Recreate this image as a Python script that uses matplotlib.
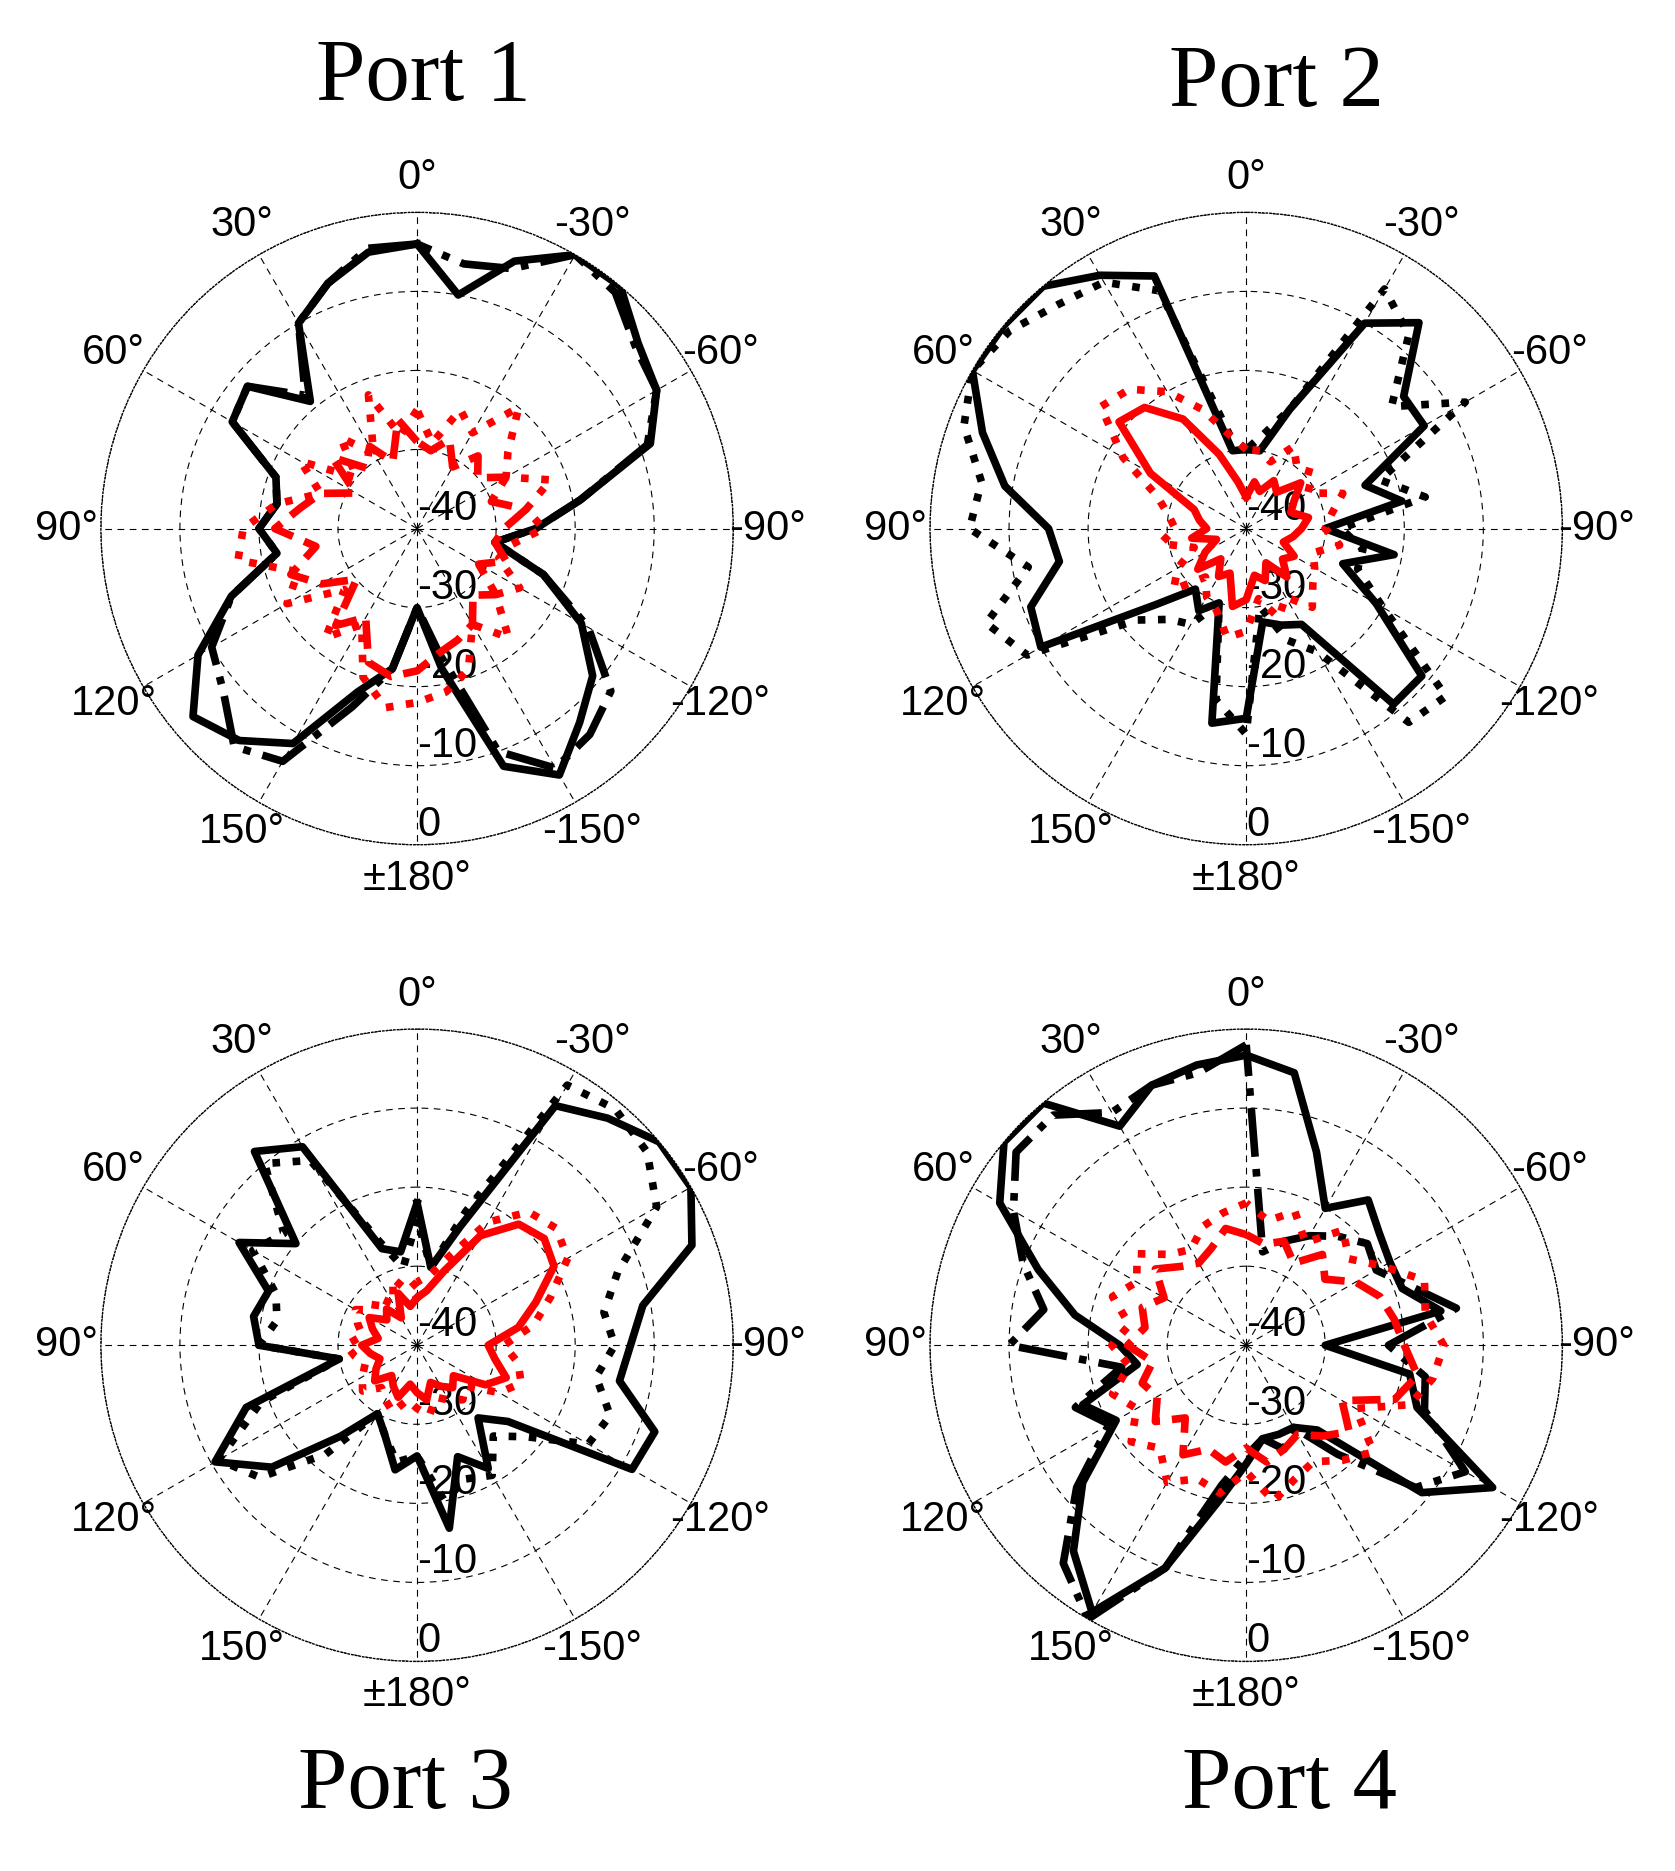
import numpy as np
import matplotlib
matplotlib.use("Agg")
import matplotlib.pyplot as plt

ang = list(range(0, 360, 10))  # degrees, counterclockwise from top; 190 = -170 etc.

p1_solid = [-4,-4.5,-7,-10,-19,-12,-13,-21,-22,-20,-22,-15,-8,-3,-5,-8.6,-18,-22,-30,
            -22,-8,-4,-8,-11,-16,-23,-30,-25,-19,-8.6,-5,-3.5,0,0,-4,-10]
p1_dash = [-4,-4,-7,-10,-18,-12,-13,-21,-22,-20,-22,-15,-10,-8,-4,-6,-16,-22,-30,
           -24,-10,-5,-6,-8,-15,-23,-30,-25,-19,-9,-5,-4,-1,0,-5,-6]
p1_red_dot = [-25,-28,-22,-29,-25,-30,-23,-27,-22,-18,-17,-24,-21,-28,-22,-26,-20,-17,-18,
              -19,-21,-26,-22,-27,-25,-29,-28,-24,-26,-22,-27,-25,-20,-26,-24,-29]
p1_red_dash = [-29,-26,-31,-28,-30,-26,-31,-27,-25,-22,-27,-23,-26,-30,-24,-27,-22,-21,-22,
               -24,-25,-26,-29,-27,-31,-28,-30,-29,-26,-30,-27,-30,-28,-31,-28,-30]

p2_solid = [-30,-30,-6,-3,0,0,0,-4.5,-9,-15,-16,-11,-10,-25,-30,-28,-30,-15,-16,
            -28,-27,-26,-11,-11,-21,-27,-21,-30,-20,-24,-14,-14,-6,-10,-24,-30]
p2_dot = [-30,-28,-8,-4,-3,-1,0,-2,-6,-5,-12,-5,-8,-22,-25,-26,-30,-18,-14,
          -30,-25,-22,-8,-7,-20,-25,-25,-28,-17,-22,-8,-16,-8,-5,-24,-28]
p2_red_solid = [-36,-34,-30,-24,-20,-19,-26,-33,-34,-35,-33,-36,-34,-32,-35,-33,-34,-30,-31,
                -34,-33,-35,-32,-34,-33,-35,-34,-33,-32,-34,-33,-31,-34,-33,-35,-34]
p2_red_dot = [-30,-28,-24,-20,-17,-16,-22,-28,-30,-31,-29,-33,-30,-28,-32,-30,-29,-26,-27,
              -31,-28,-30,-27,-29,-30,-31,-28,-30,-29,-27,-31,-29,-30,-28,-31,-30]

p3_solid = [-22,-28,-27,-11,-8,-20,-14,-20,-19,-20,-30,-17,-10.5,-16,-25,-30,-28,-24,-26,
            -16.5,-25,-22,-28,-25,-8.6,-8,-14,-13,-11,-3,0,0,-2.5,-5,-24,-30]
p3_dot = [-24,-30,-26,-13,-10,-18,-16,-21,-22,-20,-30,-19,-11,-14,-22,-30,-28,-25,-26,
          -20,-22,-21,-25,-22,-15,-14,-17,-15,-16,-13,-5,-2,-1,-2,-22,-30]
p3_red_solid = [-34,-35,-33,-36,-34,-35,-33,-34,-35,-33,-34,-35,-34,-33,-35,-34,-33,-35,-34,
                -33,-35,-34,-33,-34,-30,-28,-30,-31,-27,-24,-20,-19,-20,-24,-30,-33]
p3_red_dot = [-32,-33,-31,-34,-32,-33,-31,-32,-33,-31,-32,-33,-32,-31,-33,-32,-31,-33,-32,
              -31,-33,-32,-31,-32,-28,-26,-27,-29,-25,-22,-18,-17,-18,-22,-28,-31]

p4_solid = [-3.3,-4,-5,-8,0,0,-4,-12,-18,-24,-26,-18,-21,-13,-6,-1,-10,-20,-25,
            -28,-28,-28,-26,-11,-4,-17,-19,-30,-15,-19,-19,-18,-16,-20,-14,-5]
p4_dash = [-2,-5,-5,-6,-2,-2,-6,-10,-14,-10,-24,-17,-20,-12,-4,0,-10,-22,-26,
           -28,-26,-28,-22,-12,-8,-16,-17,-22,-13,-18,-21,-20,-22,-24,-26,-28]
p4_red_dot = [-22,-23,-24,-26,-25,-22,-24,-22,-25,-23,-25,-22,-24,-21,-23,-20,-22,-21,-24,
              -20,-22,-23,-21,-19,-24,-18,-16,-15,-17,-16,-20,-23,-21,-25,-22,-24]
p4_red_dash = [-26,-25,-27,-28,-27,-25,-28,-26,-27,-25,-28,-26,-27,-25,-28,-24,-26,-25,-27,
               -25,-26,-27,-25,-23,-26,-20,-18,-20,-21,-22,-24,-27,-25,-28,-26,-27]

titles = ["Port 1", "Port 2", "Port 3", "Port 4"]
theta_labels = ["0\u00b0", "30\u00b0", "60\u00b0", "90\u00b0", "120\u00b0", "150\u00b0", "\u00b1180\u00b0",
                "-150\u00b0", "-120\u00b0", "-90\u00b0", "-60\u00b0", "-30\u00b0"]
r_ticks = [-40, -30, -20, -10, 0]
r_labels = ["-40", "-30", "-20", "-10", "0"]

ports = [
    [(p1_solid, 'k', '-'), (p1_dash, 'k', '-.'), (p1_red_dot, 'red', ':'), (p1_red_dash, 'red', '--')],
    [(p2_solid, 'k', '-'), (p2_dot, 'k', ':'), (p2_red_solid, 'red', '-'), (p2_red_dot, 'red', ':')],
    [(p3_solid, 'k', '-'), (p3_dot, 'k', ':'), (p3_red_solid, 'red', '-'), (p3_red_dot, 'red', ':')],
    [(p4_solid, 'k', '-'), (p4_dash, 'k', '-.'), (p4_red_dot, 'red', ':'), (p4_red_dash, 'red', '--')],
]

fig = plt.figure(figsize=(16.75, 18.71), dpi=100)
centers = [(0.249, 0.7175), (0.744, 0.7175), (0.249, 0.281), (0.744, 0.281)]
rw, rh = 0.189, 0.169
title_pos = [(0.253, 0.958), (0.762, 0.955), (0.242, 0.045), (0.770, 0.045)]

th = np.deg2rad(np.array(ang + [ang[0]]))
for i, (cx, cy) in enumerate(centers):
    ax = fig.add_axes([cx - rw, cy - rh, 2 * rw, 2 * rh], projection='polar')
    ax.set_theta_zero_location('N')
    ax.set_theta_direction(1)
    ax.set_ylim(-40, 0)
    for vals, c, ls in ports[i]:
        v = np.array(vals + [vals[0]], dtype=float)
        ax.plot(th, v, color=c, linestyle=ls, linewidth=5.5, zorder=3)
    ax.set_thetagrids(np.arange(0, 360, 30), theta_labels,
                      fontsize=30, family='Liberation Sans')
    ax.tick_params(axis='x', pad=14)
    ax.set_rgrids(r_ticks, r_labels, fontsize=30, family='Liberation Sans')
    ax.set_rlabel_position(180)
    ax.grid(True, color='k', linestyle=(0, (6, 5)), linewidth=0.8)
    ax.spines['polar'].set_linestyle(':')
    ax.spines['polar'].set_linewidth(1.0)
    fig.text(title_pos[i][0], title_pos[i][1], titles[i], ha='center', va='center',
             fontsize=64, family='Liberation Serif')

fig.savefig("out.png", dpi=100)
